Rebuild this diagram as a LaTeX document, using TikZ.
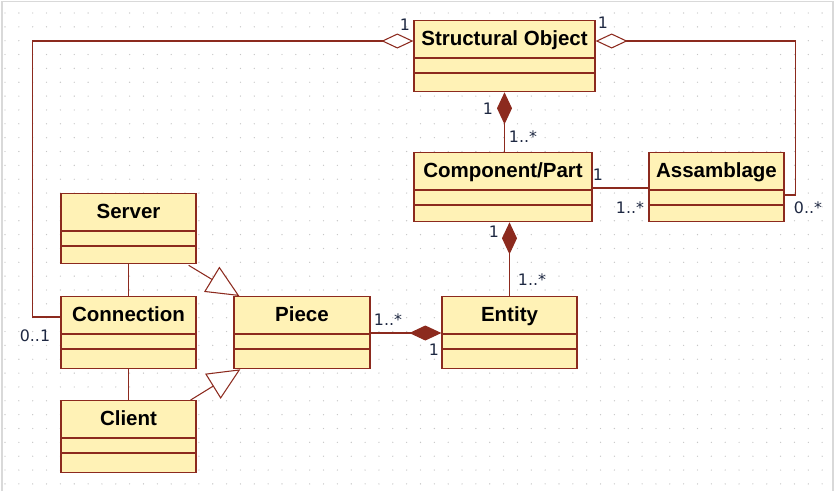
\documentclass[tikz,border=0pt]{standalone}
\usepackage{fontspec}
\setmainfont{Liberation Sans}
\newfontfamily\multfont{DejaVu Sans}
\usepackage{xcolor}
\usepackage{tikz}
\usetikzlibrary{arrows.meta,calc,positioning}
\definecolor{umlred}{RGB}{140,42,30}
\definecolor{umlfill}{RGB}{255,242,182}
\definecolor{multcol}{RGB}{30,40,66}
\newcommand{\umlclass}[6]{%
  \node[cls, minimum width=#4*0.03cm, minimum height=#5*0.03cm, anchor=north] (#1) at (#2,#3) {};
  \node[clsname] (#1-title) at ($(#1.north)+(0,25)$) {#6};
  \draw[clsline] ($(#1.north west)+(0,38)$) -- ($(#1.north east)+(0,38)$);
  \draw[clsline] ($(#1.north west)+(0,53)$) -- ($(#1.north east)+(0,53)$);
}

\begin{document}
\begin{tikzpicture}[x=0.03cm, y=-0.03cm]
    \tikzset{
      cls/.style={draw=umlred, fill=umlfill, line width=1.1pt, inner sep=0pt},
      clsname/.style={anchor=base, inner sep=0pt, font=\bfseries\fontsize{17.5}{20}\selectfont},
      clsline/.style={umlred, line width=1pt},
      mult/.style={inner sep=0pt, text=multcol, font=\multfont\fontsize{13.5}{15}\selectfont},
      assoc/.style={draw=umlred, line width=0.9pt},
      aggr/.style={assoc, {Diamond[open, fill=white, length=0.96cm, width=0.45cm]}-},
      compo/.style={assoc, {Diamond[fill=umlred, length=0.96cm, width=0.45cm]}-},
      gen/.style={assoc, -{Triangle[open, fill=white, length=0.97cm, width=0.88cm]}}
    }
    \useasboundingbox (0,0) rectangle (834,491);
    \fill[white] (0,0) rectangle (834,491);
    \draw[gray!30, line width=1.5pt] (2,491) -- (2,1.5) -- (833,1.5) -- (833,491);
    % dotted grid
    \foreach \i in {0,...,59} {
      \foreach \j in {0,...,34} {
        \fill[gray!45] (5+\i*13.85,13+\j*13.85) circle (0.02cm);
      }
    }

    \umlclass{so}{504.5}{20}{181}{71}{Structural Object}
    \umlclass{comp}{503}{152}{178}{69}{Component/Part}
    \umlclass{assem}{716.5}{152}{135}{69}{Assamblage}
    \umlclass{server}{128.5}{193}{135}{70}{Server}
    \umlclass{conn}{128.5}{296}{135}{72}{Connection}
    \umlclass{client}{128.5}{400}{135}{72}{Client}
    \umlclass{piece}{302}{296}{136}{72}{Piece}
    \umlclass{entity}{509.5}{296}{135}{72}{Entity}

    \draw[aggr] ($(so.north west)+(0,21)$) -| ($(conn.north west)+(-28,21)$) -- ($(conn.north west)+(0,21)$);
    \draw[aggr] ($(so.north east)+(0,21)$) -| ($(assem.north east)+(11,43)$) -- ($(assem.north east)+(0,43)$);
    \draw[compo] (so.south) -- (so.south |- comp.north);
    \draw[assoc] ($(comp.north east)+(0,36)$) -- ($(assem.north west)+(0,36)$);
    \draw[compo] (entity.north |- comp.south) -- (entity.north);
    \draw[compo] ($(entity.north west)+(0,37)$) -- ($(piece.north east)+(0,37)$);
    \draw[assoc] (server.south) -- (conn.north);
    \draw[assoc] (conn.south) -- (client.north);
    \draw[gen] ($(server.south east)+(-8,1)$) -- ($(piece.north west)+(6,0)$);
    \draw[gen] ($(client.north east)+(-6,0)$) -- ($(piece.south west)+(7,0)$);

    \node[mult] (m1) at (405,25) {1};
    \node[mult] (m2) at (35,336) {0..1};
    \node[mult] (m3) at (603,23) {1};
    \node[mult] (m4) at (808,208) {0..*};
    \node[mult] (m5) at (488,109) {1};
    \node[mult] (m6) at (523,137) {1..*};
    \node[mult] (m7) at (598,175) {1};
    \node[mult] (m8) at (630,208) {1..*};
    \node[mult] (m9) at (494,232) {1};
    \node[mult] (m10) at (532,280) {1..*};
    \node[mult] (m11) at (388,320) {1..*};
    \node[mult] (m12) at (434,350) {1};
  \end{tikzpicture}
\end{document}
